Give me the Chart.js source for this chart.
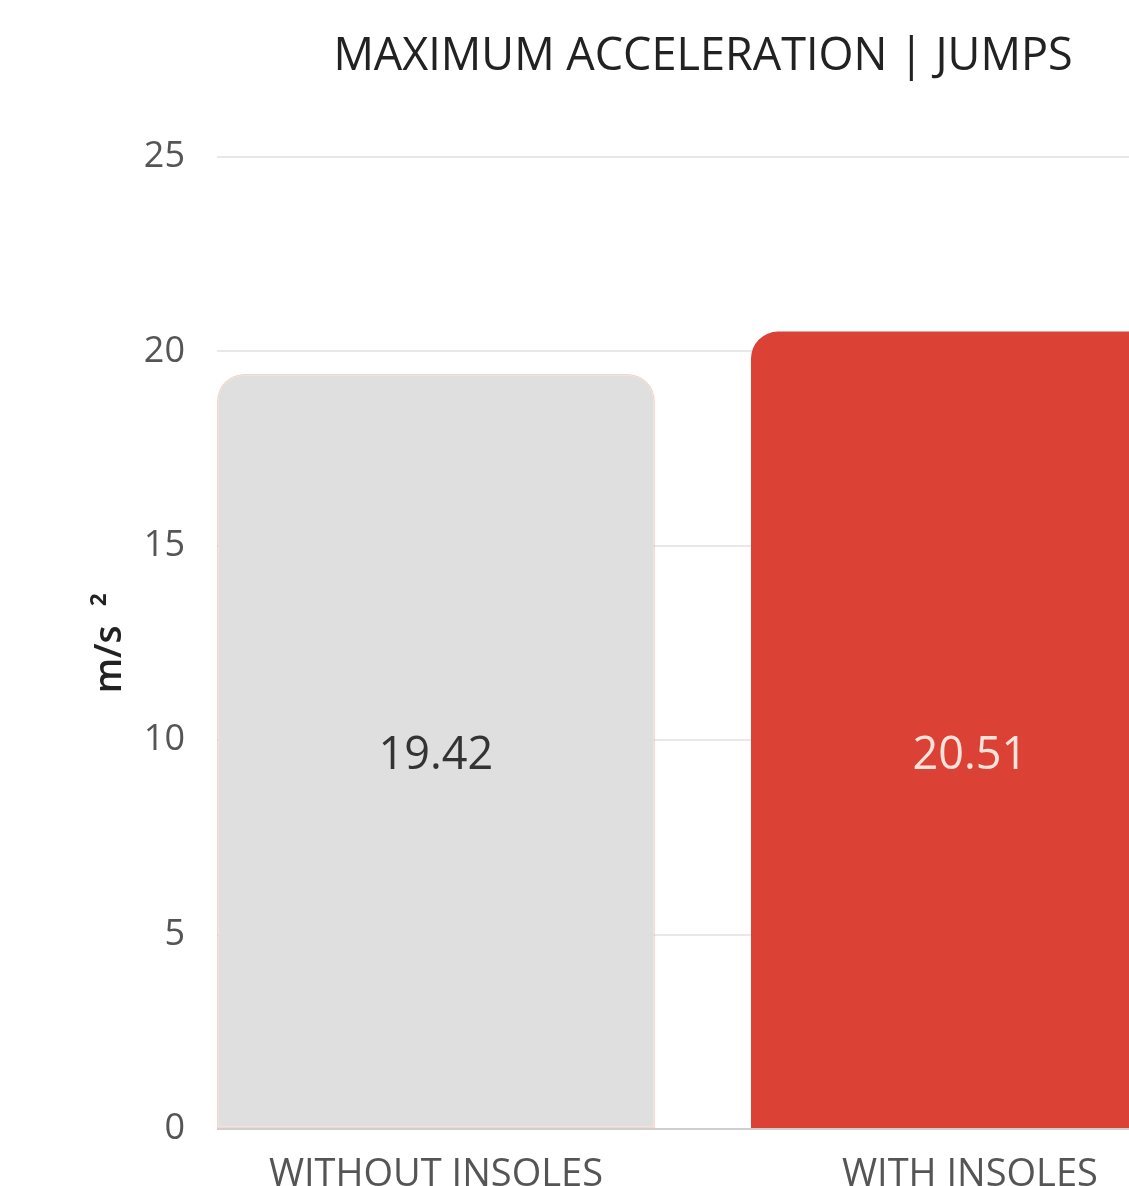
<!DOCTYPE html>
<html>
<head>
<meta charset="utf-8">
<script src="https://cdn.jsdelivr.net/npm/chart.js@4/dist/chart.umd.min.js"></script>
<style>
  html, body { margin: 0; padding: 0; background: #fff; overflow: hidden; }
  #wrap { width: 1406px; height: 1186px; }
</style>
</head>
<body>
<div id="wrap"><canvas id="c" width="1406" height="1186"></canvas></div>
<script>
// Chart data
const categories = ['WITHOUT INSOLES', 'WITH INSOLES'];
const positions = [0, 1];
const values = [19.42, 20.51];
const barColors = ['#dfdfdf', '#db4135'];
const labelColors = ['#333333', '#fbe2da'];
const yTicks = [0, 5, 10, 15, 20, 25];

const FONT = '"Open Sans", "Noto Sans", sans-serif';

// Value labels: written on one common line, halfway up the shorter bar
const valueLabels = {
  id: 'valueLabels',
  afterDatasetsDraw(chart) {
    const ctx = chart.ctx;
    const meta = chart.getDatasetMeta(0);
    const yScale = chart.scales.y;
    const labelY = yScale.getPixelForValue(Math.min(...values) / 2) + 5;
    ctx.save();
    ctx.font = '400 45px ' + FONT;
    ctx.textAlign = 'center';
    ctx.textBaseline = 'middle';
    meta.data.forEach((bar, i) => {
      const p = bar.getProps(['x'], true);
      ctx.fillStyle = labelColors[i];
      ctx.fillText(values[i].toFixed(2), p.x, labelY);
    });
    ctx.restore();
  }
};

new Chart(document.getElementById('c'), {
  type: 'bar',
  data: {
    datasets: [{
      data: positions.map((x, i) => ({ x: x, y: values[i] })),
      backgroundColor: barColors,
      borderColor: ['rgba(236,180,160,0.55)', 'rgba(219,65,53,0)'],
      borderWidth: [1.5, 0],
      borderSkipped: false,
      borderRadius: { topLeft: 27, topRight: 27, bottomLeft: 0, bottomRight: 0 },
      categoryPercentage: 1,
      barPercentage: 0.82
    }]
  },
  options: {
    responsive: false,
    animation: false,
    layout: { padding: { left: 0, right: 0, top: 0, bottom: 0 } },
    plugins: {
      legend: { display: false },
      tooltip: { enabled: false },
      title: {
        display: true,
        text: 'MAXIMUM ACCELERATION | JUMPS',
        color: '#222222',
        font: { family: FONT, size: 45, weight: '400' },
        padding: { top: 30, bottom: 73 }
      }
    },
    scales: {
      x: {
        type: 'linear',
        offset: false,
        min: -0.41,
        max: 1.8166,
        afterBuildTicks(axis) { axis.ticks = positions.map(v => ({ value: v })); },
        afterFit(axis) { axis.height = 57; },
        grid: { display: false, drawTicks: false },
        border: { display: false },
        ticks: {
          autoSkip: false,
          maxRotation: 0,
          padding: 23,
          color: '#555555',
          font: { family: FONT, size: 38 },
          callback: (v) => categories[positions.indexOf(v)]
        }
      },
      y: {
        min: 0,
        max: 25,
        afterBuildTicks(axis) { axis.ticks = yTicks.map(v => ({ value: v })); },
        afterFit(axis) { axis.width = 217; },
        grid: {
          drawTicks: false,
          lineWidth: 2,
          color: (c) => (c.tick && c.tick.value === 0 ? '#cfcfcf' : '#e8e8e8')
        },
        border: { display: false },
        ticks: {
          padding: 32,
          color: '#555555',
          font: { family: FONT, size: 36 }
        },
        title: {
          display: true,
          text: 'm/s  ²',
          color: '#222222',
          font: { family: FONT, size: 37, weight: '600' },
          padding: { top: 88, bottom: 0 }
        }
      }
    }
  },
  plugins: [valueLabels]
});
</script>
</body>
</html>
